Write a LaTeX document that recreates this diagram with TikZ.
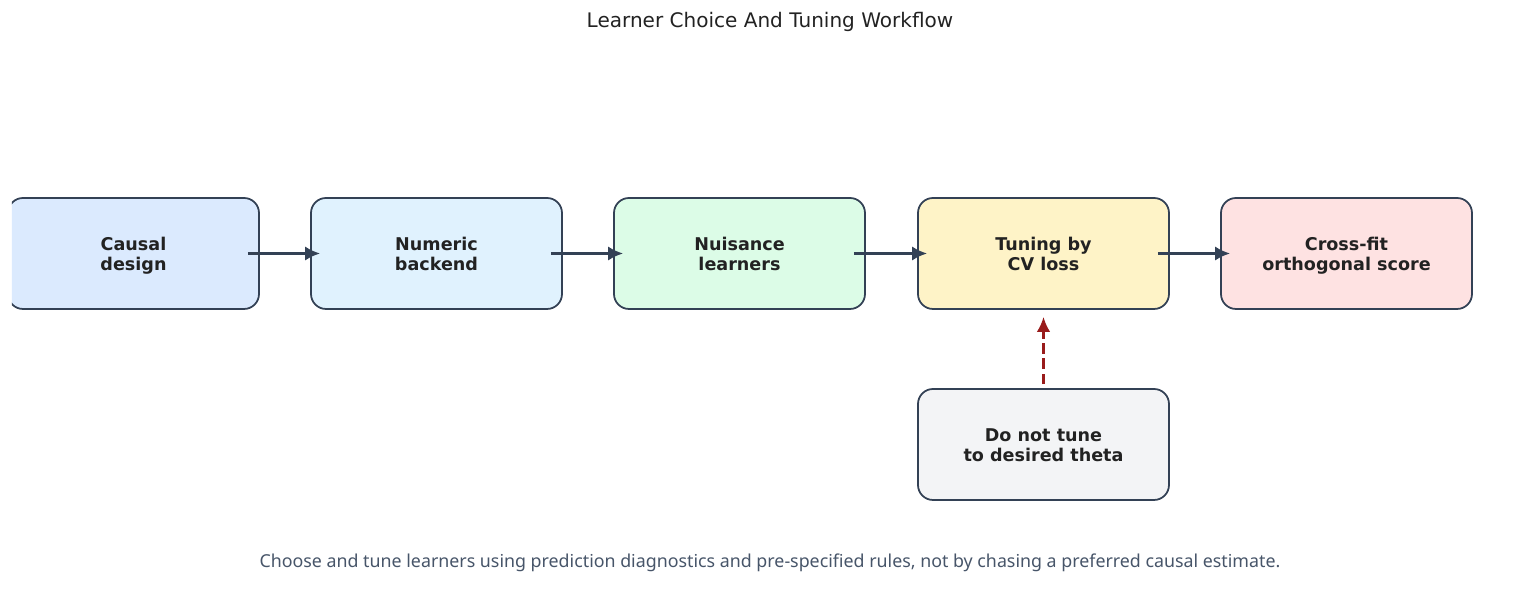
\documentclass[tikz,border=0pt]{standalone}
\usepackage{fontspec}
\setmainfont{DejaVu Sans}
\newfontfamily\notefont{Noto Sans}
\usepackage{tikz}
\usetikzlibrary{arrows.meta,positioning}
\definecolor{edgeslate}{HTML}{334155}
\definecolor{textdark}{HTML}{222222}
\definecolor{notegray}{HTML}{475569}
\definecolor{warnred}{HTML}{991B1B}
\definecolor{fillA}{HTML}{DBEAFE}
\definecolor{fillB}{HTML}{E0F2FE}
\definecolor{fillC}{HTML}{DCFCE7}
\definecolor{fillD}{HTML}{FEF3C7}
\definecolor{fillE}{HTML}{FEE2E2}
\definecolor{fillF}{HTML}{F3F4F6}
\newcommand{\twolines}[2]{\rule{0pt}{5.1pt}#1\\#2\vphantom{g}}
\tikzset{stagebox/.style={draw=edgeslate,line width=0.5pt,rounded corners=0.15cm,
    minimum width=2.51cm,minimum height=1.11cm,align=center,text=textdark,
    font=\bfseries\fontsize{5}{5.85}\selectfont}}
\tikzset{flow/.style={-{Latex[length=4.3pt,width=4.1pt]},draw=edgeslate,line width=0.75pt}}
\tikzset{guard/.style={-{Latex[length=4.3pt,width=3.9pt]},draw=warnred,line width=0.75pt,
    dash pattern=on 3pt off 1.3pt}}

\begin{document}
\begin{tikzpicture}
\useasboundingbox (0,0) rectangle (15.40,6.04);
% \draw[help lines] (0,0) grid (15,6);
\node (title) [text=textdark,font=\fontsize{5.7}{6.5}\selectfont] at (7.70,5.82) {Learner Choice And Tuning Workflow};
%
\begin{scope}
\clip (0.12,0) rectangle (15.40,6.04);
\node (design) [stagebox,fill=fillA] at (1.335,3.505) {\twolines{Causal}{design}};
\end{scope}
\node (backend) [stagebox,fill=fillB] at (4.365,3.505) {\twolines{Numeric}{backend}};
\node (nuis) [stagebox,fill=fillC] at (7.395,3.505) {\twolines{Nuisance}{learners}};
\node (tune) [stagebox,fill=fillD] at (10.435,3.505) {\twolines{Tuning by}{CV loss}};
\node (score) [stagebox,fill=fillE] at (13.465,3.505) {\twolines{Cross-fit}{orthogonal score}};
\node (guardbox) [stagebox,fill=fillF] at (10.435,1.595) {\twolines{Do not tune}{to desired theta}};
%
\draw[flow,shorten <=-0.12cm,shorten >=-0.10cm] (design) -- (backend);
\draw[flow,shorten <=-0.12cm,shorten >=-0.10cm] (backend) -- (nuis);
\draw[flow,shorten <=-0.12cm,shorten >=-0.10cm] (nuis) -- (tune);
\draw[flow,shorten <=-0.12cm,shorten >=-0.10cm] (tune) -- (score);
\draw[guard,shorten <=0.04cm,shorten >=0.07cm] (guardbox) -- (tune);
%
\node (note) [text=notegray,font=\notefont\fontsize{5.07}{6}\selectfont] at (7.70,0.415) {Choose and tune learners using prediction diagnostics and pre-specified rules, not by chasing a preferred causal estimate.};
\end{tikzpicture}
\end{document}
